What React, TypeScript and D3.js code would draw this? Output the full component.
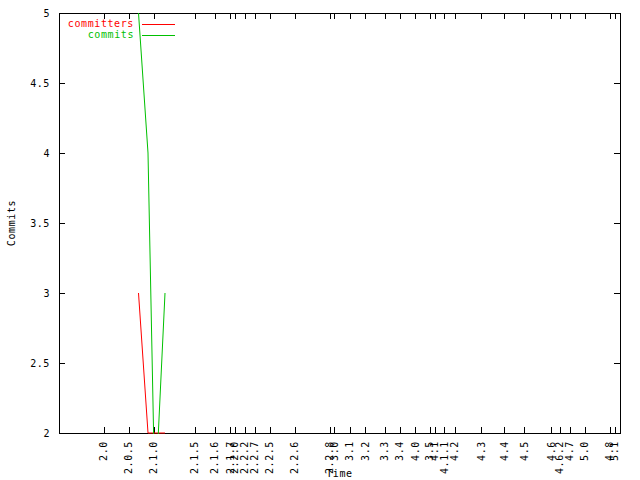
import React, { useEffect, useRef } from "react";
import * as d3 from "d3";

// release tags placed on the time axis (days since start)
const versionLabels = [
  "2.0", "2.0.5", "2.1.0", "2.1.5", "2.1.6", "2.1.7", "2.2.0", "2.2.2", "2.2.7",
  "2.2.5", "2.2.6", "2.2.8", "3.0", "3.1", "3.2", "3.3", "3.4", "4.0", "3.5",
  "4.1", "4.1.1", "4.2", "4.3", "4.4", "4.5", "4.6", "4.6.2", "4.7", "5.0",
  "4.8", "5.1",
];
const versionDays = [
  89, 139, 189, 271, 311, 342, 351, 371, 391,
  421, 471, 541, 550, 581, 612, 651, 681, 712, 741,
  751, 771, 791, 844, 891, 931, 984, 1001, 1021, 1051,
  1101, 1111,
];

// sampled points
const sampleDays = [159, 178, 192, 212];
const committers = [3, 2, 2, 2];
const commits = [5, 4, 1.5, 3];

const yTicks = [2, 2.5, 3, 3.5, 4, 4.5, 5];

const App: React.FC = () => {
  const svgRef = useRef<SVGSVGElement | null>(null);

  useEffect(() => {
    const width = 640;
    const height = 480;
    const left = 59;
    const right = 620;
    const top = 13;
    const bottom = 433;
    const font = "'DejaVu Sans Mono', monospace";

    const svg = d3.select(svgRef.current);
    svg.selectAll("*").remove();
    svg.attr("width", width).attr("height", height);

    svg.append("rect").attr("width", width).attr("height", height).attr("fill", "#fff");

    const x = d3.scaleLinear().domain([0, 1122]).range([left, right]);
    const y = d3.scaleLinear().domain([2, 5]).range([bottom, top]);

    const label = (sel: d3.Selection<SVGTextElement, unknown, null, undefined>) =>
      sel.style("font-family", font)
        .style("font-size", "10px")
        .style("letter-spacing", "0.6px");

    // border
    svg.append("rect")
      .attr("x", left + 0.5)
      .attr("y", top + 0.5)
      .attr("width", right - left)
      .attr("height", bottom - top)
      .attr("fill", "none")
      .attr("stroke", "#000")
      .attr("shape-rendering", "crispEdges");

    const tickLen = 6;

    // y ticks, mirrored on the right
    yTicks.forEach(t => {
      const yy = Math.round(y(t)) + 0.5;
      svg.append("line")
        .attr("x1", left).attr("x2", left + tickLen)
        .attr("y1", yy).attr("y2", yy)
        .attr("stroke", "#000").attr("shape-rendering", "crispEdges");
      svg.append("line")
        .attr("x1", right - tickLen).attr("x2", right)
        .attr("y1", yy).attr("y2", yy)
        .attr("stroke", "#000").attr("shape-rendering", "crispEdges");
      svg.append("text")
        .attr("x", 50)
        .attr("y", y(t))
        .attr("text-anchor", "end")
        .attr("dominant-baseline", "central")
        .call(label)
        .text(d3.format("~g")(t));
    });

    // x ticks, mirrored on top
    versionDays.forEach((d, i) => {
      const xx = Math.round(x(d)) + 0.5;
      svg.append("line")
        .attr("x1", xx).attr("x2", xx)
        .attr("y1", bottom - tickLen).attr("y2", bottom)
        .attr("stroke", "#000").attr("shape-rendering", "crispEdges");
      svg.append("line")
        .attr("x1", xx).attr("x2", xx)
        .attr("y1", top).attr("y2", top + tickLen)
        .attr("stroke", "#000").attr("shape-rendering", "crispEdges");
      svg.append("text")
        .attr("transform", `translate(${x(d)},441) rotate(-90)`)
        .attr("text-anchor", "end")
        .attr("dominant-baseline", "central")
        .call(label)
        .text(versionLabels[i]);
    });

    // axis titles
    svg.append("text")
      .attr("x", (left + right) / 2)
      .attr("y", 477)
      .attr("text-anchor", "middle")
      .call(label)
      .text("Time");

    svg.append("text")
      .attr("transform", `translate(11,${(top + bottom) / 2}) rotate(-90)`)
      .attr("text-anchor", "middle")
      .attr("dominant-baseline", "central")
      .call(label)
      .text("Commits");

    // clip for the data lines
    svg.append("clipPath")
      .attr("id", "plot-clip")
      .append("rect")
      .attr("x", left - 1)
      .attr("y", top - 1)
      .attr("width", right - left + 2)
      .attr("height", bottom - top + 2);

    const series = [
      { name: "committers", values: committers, color: "#ff0000" },
      { name: "commits", values: commits, color: "#00c000" },
    ];

    const line = d3.line<number>()
      .x((_, i) => x(sampleDays[i]))
      .y(v => y(v));

    series.forEach(s => {
      svg.append("path")
        .attr("d", line(s.values))
        .attr("fill", "none")
        .attr("stroke", s.color)
        .attr("stroke-width", 1)
        .attr("clip-path", "url(#plot-clip)");
    });

    // key
    series.forEach((s, i) => {
      const ky = 23.5 + i * 11;
      svg.append("text")
        .attr("x", 134)
        .attr("y", ky)
        .attr("text-anchor", "end")
        .attr("dominant-baseline", "central")
        .attr("fill", s.color)
        .call(label)
        .text(s.name);
      svg.append("line")
        .attr("x1", 142).attr("x2", 175)
        .attr("y1", Math.round(ky) + 0.5).attr("y2", Math.round(ky) + 0.5)
        .attr("stroke", s.color)
        .attr("shape-rendering", "crispEdges");
    });
  }, []);

  return <svg ref={svgRef} style={{ position: "absolute", left: 0, top: 0 }}></svg>;
};

export default App;
